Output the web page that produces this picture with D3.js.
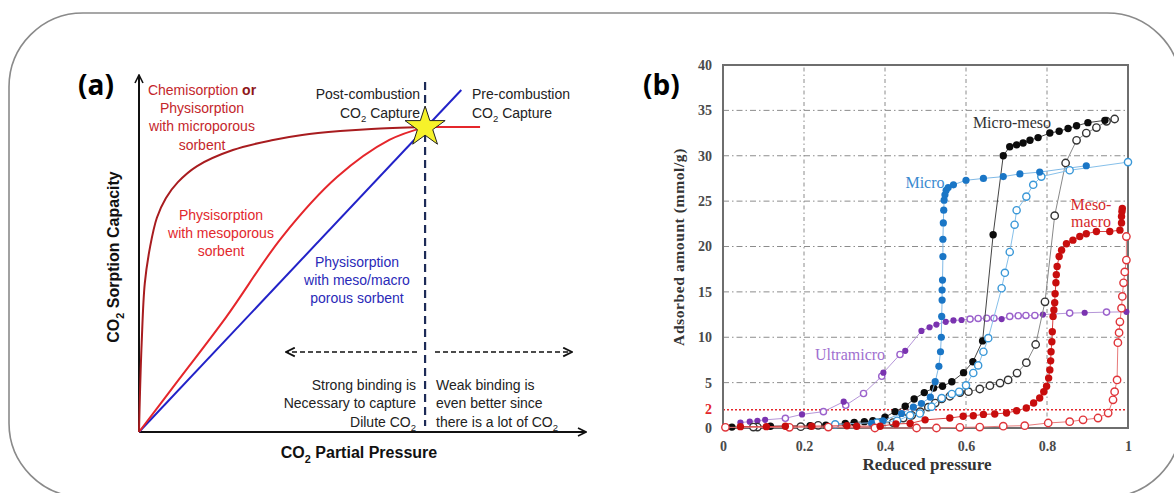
<!DOCTYPE html>
<html>
<head>
<meta charset="utf-8">
<script src="https://cdn.jsdelivr.net/npm/d3@7"></script>
<style>
  body { margin: 0; background: #fff; }
  svg { display: block; }
</style>
</head>
<body>
<script>
// ---------- panel (a): schematic isotherms (0..1 units) ----------
const microCurve = [[0,0],[0.002,0.1],[0.006,0.25],[0.013,0.417],[0.025,0.52],[0.04,0.60],[0.06,0.655],[0.087,0.70],[0.13,0.745],[0.21,0.79],[0.3,0.818],[0.365,0.832],[0.45,0.843],[0.52,0.849],[0.64,0.854]];
const mesoCurve = [[0,0],[0.083,0.137],[0.195,0.322],[0.32,0.546],[0.443,0.714],[0.56,0.818],[0.64,0.854]];
const plateauLine = [[0.64,0.854],[0.763,0.854]];
const macroLine = [[0,0],[0.721,0.958]];
const starPoint = [0.64, 0.854];

// ---------- panel (b): measured isotherms (reduced pressure, mmol/g) ----------
const microAds = [[0.367,0.5],[0.395,0.8],[0.441,1.6],[0.47,2.3],[0.49,2.7],[0.512,3.4],[0.524,5.1],[0.533,6.8],[0.537,8.4],[0.539,10.0],[0.54,12.3],[0.541,14.1],[0.541,15.2],[0.542,16.3],[0.543,18.9],[0.543,20.8],[0.544,22.6],[0.545,24.0],[0.546,25.1],[0.548,25.7],[0.551,26.2],[0.556,26.5],[0.569,26.8],[0.60,27.3],[0.643,27.5],[0.692,27.7],[0.733,28.0],[0.782,28.2],[0.897,28.9]];
const microDes = [[1.0,29.3],[0.856,28.4],[0.786,27.7],[0.766,26.8],[0.749,25.5],[0.725,24.0],[0.72,22.4],[0.708,19.4],[0.696,17.1],[0.688,15.4],[0.655,9.9],[0.643,8.4],[0.63,6.9],[0.618,6.06],[0.60,4.7],[0.583,4.0],[0.565,3.75],[0.54,3.3],[0.515,2.35],[0.486,1.6],[0.462,1.4],[0.43,0.8],[0.38,0.6],[0.277,0.4]];
const mmAds = [[0.022,0.1],[0.117,0.2],[0.215,0.25],[0.254,0.3],[0.302,0.5],[0.324,0.6],[0.349,0.7],[0.37,0.8],[0.40,1.2],[0.425,1.8],[0.45,2.4],[0.472,3.2],[0.497,3.9],[0.52,4.4],[0.542,4.6],[0.565,5.1],[0.594,6.1],[0.617,7.3],[0.641,9.6],[0.667,21.3],[0.692,30.0],[0.708,31.0],[0.725,31.2],[0.741,31.4],[0.758,31.7],[0.778,32.0],[0.807,32.5],[0.83,32.7],[0.852,33.0],[0.873,33.3],[0.901,33.65],[0.943,33.9]];
const mmDes = [[0.967,34.05],[0.947,33.8],[0.922,33.1],[0.897,32.5],[0.873,31.7],[0.846,29.2],[0.819,23.4],[0.795,13.9],[0.772,9.2],[0.749,7.2],[0.726,6.05],[0.704,5.3],[0.684,4.95],[0.659,4.66],[0.634,4.3],[0.606,4.0],[0.585,3.9],[0.56,3.5],[0.54,3.2],[0.524,2.75],[0.507,2.3],[0.487,1.8],[0.466,1.4],[0.445,1.1],[0.42,0.6],[0.235,0.3],[0.192,0.15],[0.085,0.1],[0.075,0.1]];
const mesoAds = [[0.043,0.15],[0.107,0.15],[0.154,0.2],[0.219,0.2],[0.306,0.25],[0.33,0.2],[0.388,0.2],[0.427,0.45],[0.462,0.5],[0.499,0.9],[0.56,1.1],[0.593,1.3],[0.618,1.35],[0.643,1.5],[0.671,1.55],[0.70,1.65],[0.725,1.9],[0.749,2.2],[0.767,2.75],[0.782,3.3],[0.792,4.0],[0.799,4.6],[0.804,5.5],[0.807,6.4],[0.809,7.4],[0.81,8.4],[0.812,9.5],[0.813,10.6],[0.815,12.3],[0.817,13.0],[0.819,13.8],[0.82,14.8],[0.822,16.0],[0.823,16.9],[0.825,17.8],[0.83,18.9],[0.836,19.6],[0.848,20.3],[0.864,20.7],[0.881,21.1],[0.897,21.4],[0.922,21.65],[0.955,21.65],[0.98,21.8],[0.984,22.6],[0.984,23.3],[0.985,23.85],[0.986,24.2]];
const mesoDes = [[0.996,21.1],[0.996,18.5],[0.992,17.2],[0.989,16.0],[0.986,14.5],[0.984,13.2],[0.98,11.7],[0.978,10.5],[0.975,9.4],[0.973,5.3],[0.967,4.0],[0.963,3.1],[0.951,1.65],[0.926,1.1],[0.889,0.9],[0.856,0.7],[0.803,0.55],[0.745,0.26],[0.692,0.2],[0.634,0.1],[0.585,0.07],[0.527,0],[0.478,0],[0.375,0],[0.26,0.1],[0.164,0.07],[0.006,0.07]];
const ultraAds = [[0.043,0.6],[0.066,0.7],[0.085,0.8],[0.104,0.9],[0.195,1.5],[0.298,2.9],[0.396,6.1],[0.45,8.5],[0.49,10.7],[0.51,11.1],[0.527,11.4],[0.55,11.7],[0.569,11.85],[0.589,11.9],[0.688,12.0],[0.79,12.5],[0.893,12.7],[0.996,12.8]];
const ultraDes = [[0.947,12.77],[0.856,12.66],[0.77,12.4],[0.748,12.4],[0.729,12.37],[0.708,12.3],[0.669,12.1],[0.651,12.1],[0.63,12.07],[0.61,12.0],[0.437,8.1],[0.392,5.7],[0.347,3.8],[0.303,2.5],[0.248,1.8],[0.154,1.07]];

const yTicks = [0, 5, 10, 15, 20, 25, 30, 35, 40];
const xTicks = [0, 0.2, 0.4, 0.6, 0.8, 1];
const limitLine = 2;

const width = 1174, height = 493;
const svg = d3.select("body").append("svg").attr("width", width).attr("height", height);

// outer rounded frame
svg.append("rect")
    .attr("x", 9).attr("y", 13).attr("width", 1172).attr("height", 484)
    .attr("rx", 74).attr("fill", "none")
    .attr("stroke", "#8a8a8a").attr("stroke-width", 1.6);

const defs = svg.append("defs");
function arrow(id, color, w) {
    defs.append("marker").attr("id", id)
        .attr("viewBox", "0 0 10 10").attr("refX", 9).attr("refY", 5)
        .attr("markerWidth", w).attr("markerHeight", w).attr("orient", "auto-start-reverse")
        .attr("markerUnits", "userSpaceOnUse")
        .append("path").attr("d", "M1,1 L9,5 L1,9").attr("fill", "none")
        .attr("stroke", color).attr("stroke-width", 1.6);
}
arrow("axArrow", "#111", 10);
arrow("dashArrow", "#111", 11);

// text with "_2" subscripts
function rich(sel, str, fs) {
    str.split("_2").forEach((p, i) => {
        if (i > 0) sel.append("tspan").attr("dy", fs * 0.3).attr("font-size", fs * 0.68).text("2");
        const t = sel.append("tspan").text(p);
        if (i > 0) t.attr("dy", -fs * 0.3);
    });
}
function lines(g, x, y0, step, arr, anchor, color, fs) {
    arr.forEach((s, i) => {
        const t = g.append("text").attr("x", x).attr("y", y0 + i * step)
            .attr("text-anchor", anchor).attr("fill", color).attr("font-size", fs);
        rich(t, s, fs);
    });
}

// ================= panel (a) =================
const ga = svg.append("g").attr("font-family", "Liberation Sans, Arial, sans-serif");
const xA = d3.scaleLinear().domain([0, 1]).range([139, 586]);
const yA = d3.scaleLinear().domain([0, 1]).range([432, 75]);
const lineA = d3.line().x(d => xA(d[0])).y(d => yA(d[1]));
const smoothA = d3.line().x(d => xA(d[0])).y(d => yA(d[1])).curve(d3.curveCatmullRom.alpha(0.5));

// axes
ga.append("line").attr("x1", xA(0)).attr("y1", yA(0)).attr("x2", xA(0)).attr("y2", yA(1))
    .attr("stroke", "#111").attr("stroke-width", 2).attr("marker-end", "url(#axArrow)");
ga.append("line").attr("x1", xA(0)).attr("y1", yA(0)).attr("x2", xA(1)).attr("y2", yA(0))
    .attr("stroke", "#111").attr("stroke-width", 2).attr("marker-end", "url(#axArrow)");

// dashed separator
ga.append("line").attr("x1", xA(starPoint[0])).attr("x2", xA(starPoint[0]))
    .attr("y1", 82).attr("y2", 426)
    .attr("stroke", "#1d2b57").attr("stroke-width", 2.2).attr("stroke-dasharray", "8,5");

ga.append("path").datum(macroLine).attr("d", lineA)
    .attr("fill", "none").attr("stroke", "#2222c8").attr("stroke-width", 2);
ga.append("path").datum(mesoCurve).attr("d", smoothA)
    .attr("fill", "none").attr("stroke", "#e5262b").attr("stroke-width", 2);
ga.append("path").datum(plateauLine).attr("d", lineA)
    .attr("fill", "none").attr("stroke", "#e5262b").attr("stroke-width", 2);
ga.append("path").datum(microCurve).attr("d", smoothA)
    .attr("fill", "none").attr("stroke", "#a81c1f").attr("stroke-width", 2);

ga.append("path").attr("d", d3.symbol(d3.symbolStar, 500)())
    .attr("transform", `translate(${xA(starPoint[0])},${yA(starPoint[1])})`)
    .attr("fill", "#f6f22a").attr("stroke", "#222").attr("stroke-width", 1);

// dashed arrows
ga.append("line").attr("x1", 417).attr("x2", 286).attr("y1", 352).attr("y2", 352)
    .attr("stroke", "#111").attr("stroke-width", 1.6).attr("stroke-dasharray", "5,3")
    .attr("marker-end", "url(#dashArrow)");
ga.append("line").attr("x1", 435).attr("x2", 572).attr("y1", 352).attr("y2", 352)
    .attr("stroke", "#111").attr("stroke-width", 1.6).attr("stroke-dasharray", "5,3")
    .attr("marker-end", "url(#dashArrow)");

ga.append("text").attr("x", 78).attr("y", 95).attr("font-size", 28).attr("font-weight", "bold")
    .attr("font-family", "Open Sans, Liberation Sans, sans-serif").text("(a)");

const fsA = 14;
const t1 = ga.append("text").attr("x", 202).attr("y", 95).attr("text-anchor", "middle")
    .attr("font-size", fsA).attr("fill", "#c4262b");
t1.append("tspan").text("Chemisorption ");
t1.append("tspan").attr("font-weight", "bold").attr("fill", "#8e1518").text("or");
lines(ga, 202, 113, 18.3, ["Physisorption", "with microporous", "sorbent"], "middle", "#c4262b", fsA);
lines(ga, 221, 220, 18, ["Physisorption", "with mesoporous", "sorbent"], "middle", "#e2282d", fsA);
lines(ga, 357, 267, 18, ["Physisorption", "with meso/macro", "porous sorbent"], "middle", "#2a2ab8", fsA);
lines(ga, 420, 99, 18.5, ["Post-combustion", "CO_2 Capture"], "end", "#222", fsA);
lines(ga, 472, 99, 18.5, ["Pre-combustion", "CO_2 Capture"], "start", "#222", fsA);
lines(ga, 416, 390, 18.3, ["Strong binding is", "Necessary to capture", "Dilute CO_2"], "end", "#222", fsA);
lines(ga, 436, 390, 18.3, ["Weak binding is", "even better since", "there is a lot of CO_2"], "start", "#222", fsA);

const yl = ga.append("text").attr("transform", "translate(119,257) rotate(-90)")
    .attr("text-anchor", "middle").attr("font-size", 16).attr("font-weight", "bold").attr("fill", "#111");
rich(yl, "CO_2 Sorption Capacity", 16);
const xl = ga.append("text").attr("x", 359).attr("y", 458)
    .attr("text-anchor", "middle").attr("font-size", 16).attr("font-weight", "bold").attr("fill", "#111");
rich(xl, "CO_2 Partial Pressure", 16);

// ================= panel (b) =================
const gb = svg.append("g").attr("font-family", "Liberation Serif, Times New Roman, serif");
const xB = d3.scaleLinear().domain([0, 1]).range([723, 1128]);
const yB = d3.scaleLinear().domain([0, 40]).range([428, 65]);

// grid
gb.selectAll(".gy").data(yTicks.filter(d => d > 0 && d < 40)).enter().append("line")
    .attr("x1", xB(0)).attr("x2", xB(1)).attr("y1", d => yB(d)).attr("y2", d => yB(d))
    .attr("stroke", "#8c8c8c").attr("stroke-width", 1).attr("stroke-dasharray", "6,3,1.5,3");
gb.selectAll(".gx").data(xTicks.filter(d => d > 0 && d < 1)).enter().append("line")
    .attr("x1", d => xB(d)).attr("x2", d => xB(d)).attr("y1", yB(0)).attr("y2", yB(40))
    .attr("stroke", "#8c8c8c").attr("stroke-width", 1).attr("stroke-dasharray", "4,3,1.5,3");

// red dotted reference at 2
gb.append("line").attr("x1", xB(0)).attr("x2", xB(1)).attr("y1", yB(limitLine)).attr("y2", yB(limitLine))
    .attr("stroke", "#e3262b").attr("stroke-width", 1.5).attr("stroke-dasharray", "2,2");

// axes
const ax = gb.append("g").attr("transform", `translate(${xB(0)},0)`)
    .call(d3.axisLeft(yB).tickValues(yTicks).tickSize(0).tickPadding(11));
ax.select(".domain").remove();
ax.selectAll("text").attr("font-size", 14).attr("font-weight", "bold").attr("fill", "#4a4a4a")
    .attr("font-family", "Liberation Serif, serif");
gb.append("text").attr("x", xB(0) - 11).attr("y", yB(limitLine)).attr("dy", "0.32em")
    .attr("text-anchor", "end").attr("font-size", 14).attr("font-weight", "bold").attr("fill", "#e3262b").text("2");

const bx = gb.append("g").attr("transform", `translate(0,${yB(0)})`)
    .call(d3.axisBottom(xB).tickValues(xTicks).tickSize(0).tickPadding(13).tickFormat(d3.format("~g")));
bx.select(".domain").remove();
bx.selectAll("text").attr("font-size", 14).attr("font-weight", "bold").attr("fill", "#4a4a4a")
    .attr("font-family", "Liberation Serif, serif");

gb.append("rect").attr("x", xB(0)).attr("y", yB(40)).attr("width", xB(1) - xB(0)).attr("height", yB(0) - yB(40))
    .attr("fill", "none").attr("stroke", "#6e6e6e").attr("stroke-width", 2);

gb.append("text").attr("x", 927).attr("y", 470).attr("text-anchor", "middle")
    .attr("font-size", 17).attr("font-weight", "bold").attr("fill", "#333").text("Reduced pressure");
gb.append("text").attr("transform", "translate(684,247) rotate(-90)").attr("text-anchor", "middle")
    .attr("font-size", 15.5).attr("font-weight", "bold").attr("fill", "#333").attr("letter-spacing", 0.6)
    .text("Adsorbed amount (mmol/g)");

gb.append("text").attr("x", 643).attr("y", 95).attr("font-size", 28).attr("font-weight", "bold")
    .attr("font-family", "Open Sans, Liberation Sans, sans-serif").text("(b)");

const lineB = d3.line().x(d => xB(d[0])).y(d => yB(d[1]));
function series(ads, des, c) {
    const g = gb.append("g");
    if (c.joined) {
        g.append("path").datum(d3.sort(ads.concat(des), d => d[0])).attr("d", lineB)
            .attr("fill", "none").attr("stroke", c.line).attr("stroke-width", 1);
    } else {
        g.append("path").datum(ads).attr("d", lineB).attr("fill", "none").attr("stroke", c.line).attr("stroke-width", 1);
        g.append("path").datum(des).attr("d", lineB).attr("fill", "none").attr("stroke", c.line2).attr("stroke-width", 1);
    }
    g.selectAll(".o").data(des).enter().append("circle")
        .attr("cx", d => xB(d[0])).attr("cy", d => yB(d[1])).attr("r", c.r)
        .attr("fill", "#fff").attr("stroke", c.open).attr("stroke-width", 1.4);
    g.selectAll(".f").data(ads).enter().append("circle")
        .attr("cx", d => xB(d[0])).attr("cy", d => yB(d[1])).attr("r", c.r)
        .attr("fill", c.fill);
}
series(ultraAds, ultraDes, { fill: "#7a33b0", open: "#9b62cc", line: "#b596d8", r: 3.1, joined: true });
series(mmAds, mmDes, { fill: "#0c0c0c", open: "#333", line: "#444", line2: "#888", r: 3.7 });
series(microAds, microDes, { fill: "#1a76c6", open: "#3a98d8", line: "#7fb9e6", line2: "#86c0ea", r: 3.6 });
series(mesoAds, mesoDes, { fill: "#c80d0d", open: "#e0353a", line: "#d84040", line2: "#e77a7a", r: 3.7 });

// series labels
gb.append("text").attr("x", 1012).attr("y", 128).attr("text-anchor", "middle").attr("font-size", 16).attr("fill", "#333").text("Micro-meso");
gb.append("text").attr("x", 925).attr("y", 188).attr("text-anchor", "middle").attr("font-size", 16).attr("fill", "#3a8ad0").text("Micro");
gb.append("text").attr("x", 1091).attr("y", 210).attr("text-anchor", "middle").attr("font-size", 16).attr("fill", "#d42a2a").text("Meso-");
gb.append("text").attr("x", 1091).attr("y", 227).attr("text-anchor", "middle").attr("font-size", 16).attr("fill", "#d42a2a").text("macro");
gb.append("text").attr("x", 850).attr("y", 360).attr("text-anchor", "middle").attr("font-size", 16).attr("fill", "#a070d0").text("Ultramicro");
</script>
</body>
</html>
